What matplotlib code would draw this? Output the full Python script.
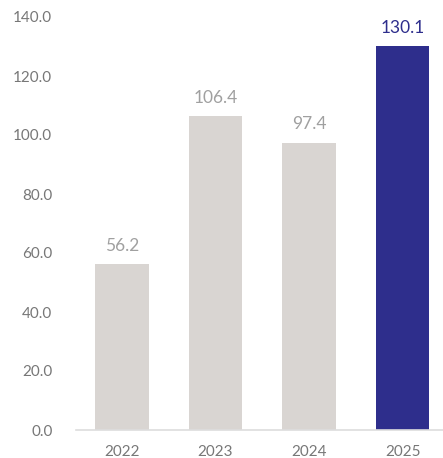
import matplotlib
matplotlib.use('Agg')
import matplotlib.pyplot as plt

plt.rcParams['font.family'] = ['Lato', 'DejaVu Sans']

years = ['2022', '2023', '2024', '2025']
values = [56.2, 106.4, 97.4, 130.1]
bar_colors = ['#d9d5d2', '#d9d5d2', '#d9d5d2', '#2e2e8c']
label_colors = ['#a0a0a0', '#a0a0a0', '#a0a0a0', '#2e2e8c']
yticks = [0, 20, 40, 60, 80, 100, 120, 140]

fig = plt.figure(figsize=(4.43, 4.58), dpi=100, facecolor='white')
ax = fig.add_axes([76 / 443, 28 / 458, 1 - 76 / 443, (430 - 17) / 458])

x = range(len(years))
bars = ax.bar(x, values, width=0.57, color=bar_colors, zorder=2)

for xi, v, c in zip(x, values, label_colors):
    ax.text(xi, v + 3.5, f'{v:.1f}', ha='center', va='bottom',
            fontsize=12.5, color=c)

ax.set_xlim(-0.49, 3.43)
ax.set_ylim(0, 140)
ax.set_yticks(yticks)
ax.set_yticklabels([f'{t:.1f}' for t in yticks])
ax.set_xticks(list(x))
ax.set_xticklabels(years)

ax.tick_params(axis='both', length=0, labelsize=11, labelcolor='#777777')
ax.tick_params(axis='y', pad=17)
ax.tick_params(axis='x', pad=11)

for s in ['top', 'right', 'left']:
    ax.spines[s].set_visible(False)
ax.spines['bottom'].set_color('#dddddd')
ax.spines['bottom'].set_linewidth(1.2)

fig.savefig('out.png', dpi=100, facecolor='white')
